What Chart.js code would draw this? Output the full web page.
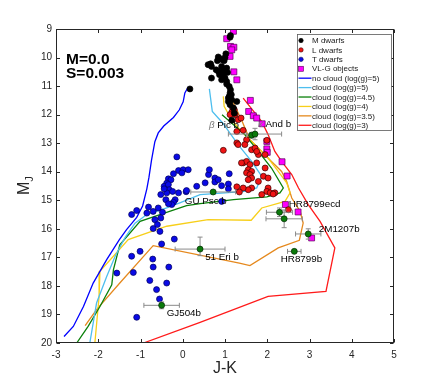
<!DOCTYPE html>
<html><head><meta charset="utf-8">
<script src="https://cdn.jsdelivr.net/npm/chart.js@4.4.0/dist/chart.umd.min.js"></script>
<style>html,body{margin:0;padding:0;background:#fff;}#wrap{width:436px;height:386px;}</style>
</head><body><div id="wrap"><canvas id="c" width="436" height="386"></canvas></div>
<script>
// ---------- data (x = J-K, y = M_J) ----------
const xTicks = [-3,-2,-1,0,1,2,3,4,5];
const yTicks = [9,10,11,12,13,14,15,16,17,18,19,20];

const mDwarfs = [[1.13,9.23],[1.12,9.29],[1.02,9.87],[0.84,9.98],[0.86,10.02],[0.98,10.11],[0.94,10.08],[0.82,10.11],[0.60,10.25],[0.66,10.22],[0.68,10.31],[0.92,10.31],[1.04,10.37],[0.79,10.43],[0.96,10.48],[0.84,10.48],[0.87,10.60],[0.96,10.60],[0.68,10.72],[1.00,10.72],[0.92,10.78],[1.04,10.84],[1.04,10.93],[1.10,11.01],[1.13,11.13],[1.12,11.24],[1.10,11.36],[1.16,11.48],[1.08,11.54],[1.12,11.65],[1.20,11.77],[0.17,11.10],[1.16,12.20],[1.08,11.42],[1.28,11.54],[1.00,10.00],[1.06,10.52],[1.15,11.30],[1.22,11.95]];

const lDwarfs = [[1.18,11.77],[1.16,11.92],[1.24,12.00],[1.12,12.00],[1.31,12.18],[1.38,12.12],[1.22,11.83],[1.28,12.59],[1.43,12.55],[1.28,12.99],[1.51,12.88],[0.96,13.25],[1.63,13.23],[1.79,13.40],[1.47,13.05],[1.71,13.17],[1.75,13.29],[1.31,13.05],[1.43,13.69],[1.51,13.64],[1.59,13.75],[1.39,13.69],[1.55,13.93],[1.63,13.99],[1.51,14.04],[1.59,14.10],[1.63,14.22],[1.55,14.28],[1.75,13.69],[1.95,13.87],[1.91,14.16],[1.79,14.34],[2.02,14.57],[1.99,14.69],[2.07,14.74],[1.87,14.80],[1.63,14.57],[1.55,14.63],[1.43,14.57],[1.28,14.53],[2.18,14.74],[2.50,15.33],[1.34,14.71],[1.99,12.90],[1.95,13.40],[2.02,14.22],[2.14,14.78]];

const tDwarfs = [[-0.14,13.48],[-0.10,13.96],[0.01,13.93],[0.13,13.93],[-0.22,14.07],[-0.34,14.25],[-0.28,14.28],[-0.38,14.40],[-0.44,14.51],[-0.34,14.45],[-0.32,14.63],[-0.38,14.74],[-0.44,14.60],[-0.52,14.80],[-0.24,14.69],[-0.10,14.74],[-0.18,14.98],[-0.22,15.07],[-0.26,15.15],[-0.40,14.98],[-0.34,15.12],[-0.58,15.27],[-0.70,15.39],[-0.81,15.24],[-0.85,15.45],[-0.48,15.42],[-0.52,15.62],[-0.66,15.68],[-0.60,15.85],[-0.70,15.99],[-0.54,16.09],[-1.01,16.79],[-1.21,16.96],[-0.20,16.36],[-0.50,16.53],[-0.71,17.06],[-0.70,17.34],[-0.33,17.34],[-0.78,17.81],[-1.17,17.53],[-1.56,17.55],[-0.62,18.13],[-0.38,17.90],[-0.55,18.46],[-1.09,19.10],[-1.21,15.50],[-1.09,15.36],[0.61,14.10],[0.33,14.51],[0.53,14.39],[0.76,14.22],[0.76,14.36],[0.92,14.49],[0.84,14.28],[1.10,14.07],[1.08,14.43],[1.08,14.60],[0.08,14.70],[0.92,15.04],[0.63,13.93],[0.09,14.66],[-0.02,14.04]];

const vlgObjects = [[1.20,9.08],[1.04,9.34],[1.13,9.61],[1.21,9.64],[1.16,9.73],[1.12,9.96],[1.21,10.50],[1.28,10.78],[1.60,11.50],[1.56,11.89],[1.67,12.04],[1.75,12.12],[1.88,12.32],[1.99,12.94],[1.99,13.20],[2.00,13.32],[2.35,13.65],[2.47,14.15],[2.43,15.15],[2.73,15.41],[3.05,16.32]];

const noCloudG5 = [[0.13,11.03],[0.05,11.24],[0.01,11.55],[-0.08,11.83],[-0.22,12.10],[-0.45,12.40],[-0.58,12.64],[-0.66,12.95],[-0.74,13.60],[-0.80,14.20],[-0.85,14.60],[-0.95,15.20],[-1.09,15.60],[-1.33,16.03],[-1.50,16.38],[-1.80,17.08],[-2.12,17.90],[-2.35,18.72],[-2.59,19.42],[-2.81,19.77]];
const cloudG5 = [[0.63,11.10],[0.70,11.89],[0.95,12.30],[1.31,13.05],[1.63,13.64],[1.87,14.16],[1.75,14.57],[1.47,14.69],[1.00,14.74],[0.41,14.80],[-0.07,15.09],[-0.38,15.27],[-0.85,15.50],[-1.13,15.80],[-1.37,16.32],[-1.60,16.96],[-1.80,17.67],[-2.04,18.60],[-2.20,20.00]];
const cloudG45 = [[0.93,12.00],[1.47,12.70],[1.79,13.29],[2.10,13.87],[2.38,14.57],[2.30,14.74],[1.99,14.88],[1.20,14.98],[0.41,15.12],[0.09,15.19],[-0.54,15.50],[-1.01,15.74],[-1.49,16.56],[-1.64,17.43],[-1.68,17.96],[-1.96,18.72],[-2.24,19.42],[-2.51,20.00]];
const cloudG4 = [[0.96,11.36],[0.98,11.71],[1.16,12.18],[1.39,12.59],[1.71,13.05],[2.02,13.52],[2.26,13.99],[2.46,14.39],[2.54,14.74],[2.42,15.04],[1.87,15.27],[1.62,15.70],[0.60,15.68],[-0.38,15.91],[-1.29,16.38],[-1.96,17.49],[-1.98,18.37],[-2.08,20.00]];
const cloudG35 = [[1.10,11.28],[1.20,11.59],[1.39,12.18],[1.59,12.88],[1.87,13.29],[2.10,13.64],[2.34,13.99],[2.46,14.34],[2.58,14.92],[2.78,15.39],[2.85,15.80],[2.76,16.40],[2.26,16.67],[1.59,17.29],[1.34,17.20],[-0.70,16.59],[-1.49,17.90],[-2.04,18.83],[-2.31,19.39]];
const cloudG3 = [[1.43,11.42],[1.87,12.24],[2.02,12.70],[2.18,13.29],[2.34,13.64],[2.58,14.10],[2.74,14.57],[2.97,15.15],[3.25,15.74],[3.60,16.67],[3.39,18.19],[2.02,18.37],[0.41,19.28],[-0.93,20.00]];

const planetNames = ['beta Pic b','kappa And b','GU Psc b','51 Eri b','GJ504b','HR8799e','HR8799d','HR8799b','2M1207b'];
const planetX     = [1.63, 1.71, 0.72, 0.41, -0.50, 2.29, 2.40, 2.64, 2.97];
const planetY     = [12.72,12.68,14.71,16.71,18.68,15.42,15.65,16.79,16.18];
const planetXErr  = [0.12, 0.63, 0.53, 0.59, 0.42, 0.31, 0.43, 0.16, 0.30];
const planetYErrUp= [0.10, 0.20, 0.05, 0.42, 0.12, 0.15, 0.31, 0.05, 0.18];
const planetYErrDn= [0.10, 0.20, 0.05, 0.23, 0.12, 0.15, 0.31, 0.05, 0.18];

const labelPrefix = ['β', 'κ', '', '', '', '', '', ''];
const labelTexts  = [' Pic b', ' And b', 'GU Psc b', '51 Eri b', 'GJ504b', 'HR8799ecd', 'HR8799b', '2M1207b'];
const labelX      = [0.62, 1.78, 0.05, 0.53, -0.38, 2.51, 2.32, 3.22];
const labelY      = [12.39, 12.33, 15.04, 17.00, 18.95, 15.15, 17.06, 16.00];

const modelText = ['M=0.0', 'S=0.003'];

// ---------- build ----------
const toPts = a => a.map(([x,y]) => ({x, y}));
const FONT = 'Liberation Sans, Arial, Helvetica, sans-serif';
const lineDs = (label, pts, color) => ({label, data: toPts(pts), showLine: true, borderColor: color, backgroundColor: color,
  borderWidth: 1.3, pointRadius: 0, pointHoverRadius: 0, fill: false, tension: 0, order: 10, kind: 'line'});
const ptDs = (label, pts, fill, edge, style, r) => ({label, data: toPts(pts), showLine: false, pointStyle: style,
  pointRadius: r, pointHoverRadius: r, pointBackgroundColor: fill, pointBorderColor: edge, pointBorderWidth: 0.7,
  backgroundColor: fill, borderColor: edge, order: 5, kind: 'point'});

const datasets = [
  ptDs('M dwarfs', mDwarfs, '#000000', '#000000', 'circle', 3),
  ptDs('L dwarfs', lDwarfs, '#f01414', '#3a0000', 'circle', 3),
  ptDs('T dwarfs', tDwarfs, '#0a0ae6', '#00005a', 'circle', 3),
  ptDs('VL-G objects', vlgObjects, '#ff00ff', '#550055', 'rect', 4.2),
  lineDs('no cloud (log(g)=5)', noCloudG5, '#0000ff'),
  lineDs('cloud (log(g)=5)', cloudG5, '#4dbeee'),
  lineDs('cloud (log(g)=4.5)', cloudG45, '#0a800a'),
  lineDs('cloud (log(g)=4)', cloudG4, '#f7cf1a'),
  lineDs('cloud (log(g)=3.5)', cloudG35, '#e5891e'),
  lineDs('cloud (log(g)=3)', cloudG3, '#ff1a1a'),
  {label: 'planets', data: planetX.map((x,i) => ({x, y: planetY[i]})), showLine: false, pointStyle: 'circle',
   pointRadius: 3, pointBackgroundColor: '#0b7a0b', pointBorderColor: '#002a00', pointBorderWidth: 0.7, order: 0, kind: 'planet'}
];

function drawErrorBars(chart) {
  const ctx = chart.ctx, xs = chart.scales.x, ys = chart.scales.y;
  ctx.save();
  ctx.strokeStyle = '#8a8a8a'; ctx.lineWidth = 1;
  const cap = 2.5;
  planetX.forEach((x, i) => {
    const px = xs.getPixelForValue(x), py = ys.getPixelForValue(planetY[i]);
    const x0 = xs.getPixelForValue(x - planetXErr[i]), x1 = xs.getPixelForValue(x + planetXErr[i]);
    const y0 = ys.getPixelForValue(planetY[i] - planetYErrUp[i]), y1 = ys.getPixelForValue(planetY[i] + planetYErrDn[i]);
    ctx.beginPath();
    ctx.moveTo(x0, py); ctx.lineTo(x1, py);
    ctx.moveTo(x0, py - cap); ctx.lineTo(x0, py + cap);
    ctx.moveTo(x1, py - cap); ctx.lineTo(x1, py + cap);
    ctx.moveTo(px, y0); ctx.lineTo(px, y1);
    ctx.moveTo(px - cap, y0); ctx.lineTo(px + cap, y0);
    ctx.moveTo(px - cap, y1); ctx.lineTo(px + cap, y1);
    ctx.stroke();
  });
  ctx.restore();
}

const decor = {
  id: 'decor',
  beforeDatasetDraw(chart, args) {
    if (chart.data.datasets[args.index].kind === 'planet') drawErrorBars(chart);
  },
  afterDraw(chart) {
    const ctx = chart.ctx, a = chart.chartArea, xs = chart.scales.x, ys = chart.scales.y;
    ctx.save();
    // box
    ctx.strokeStyle = '#262626'; ctx.lineWidth = 1;
    const L = Math.round(a.left) + 0.5, R = Math.round(a.right) - 0.5, T = Math.round(a.top) + 0.5, B = Math.round(a.bottom) - 0.5;
    ctx.strokeRect(L, T, R - L, B - T);
    ctx.beginPath();
    const tl = 3.5;
    xTicks.forEach(v => { const p = Math.round(xs.getPixelForValue(v)) + 0.5;
      ctx.moveTo(p, B); ctx.lineTo(p, B - tl); ctx.moveTo(p, T); ctx.lineTo(p, T + tl); });
    yTicks.forEach(v => { const p = Math.round(ys.getPixelForValue(v)) + 0.5;
      ctx.moveTo(L, p); ctx.lineTo(L + tl, p); ctx.moveTo(R, p); ctx.lineTo(R - tl, p); });
    ctx.stroke();

    // axis titles
    ctx.fillStyle = '#262626';
    ctx.font = '16px ' + FONT; ctx.textAlign = 'center'; ctx.textBaseline = 'middle';
    ctx.fillText('J-K', (a.left + a.right) / 2, 369);
    ctx.save();
    ctx.translate(23, 186); ctx.rotate(-Math.PI / 2);
    ctx.textAlign = 'left'; ctx.textBaseline = 'alphabetic';
    ctx.font = '16px ' + FONT; const wM = ctx.measureText('M').width;
    ctx.fillText('M', -9, 6);
    ctx.font = '11px ' + FONT; ctx.fillText('J', -9 + wM, 10);
    ctx.restore();

    // model parameters
    ctx.fillStyle = '#000'; ctx.textAlign = 'left'; ctx.textBaseline = 'alphabetic';
    ctx.font = 'bold 15.5px ' + FONT;
    ctx.fillText(modelText[0], 66, 63.5);
    ctx.fillText(modelText[1], 66, 77.5);

    // object labels
    ctx.font = '9.8px ' + FONT; ctx.textBaseline = 'middle';
    labelTexts.forEach((t, i) => {
      let px = xs.getPixelForValue(labelX[i]); const py = ys.getPixelForValue(labelY[i]);
      if (labelPrefix[i]) {
        ctx.fillStyle = '#808080'; ctx.font = 'italic 9.8px ' + FONT;
        ctx.fillText(labelPrefix[i], px, py); px += ctx.measureText(labelPrefix[i]).width;
        ctx.font = '9.8px ' + FONT;
      }
      ctx.fillStyle = '#000'; ctx.fillText(t, px, py);
    });

    // legend
    const bx = 297.5, by = 34.5, bw = 94, bh = 96;
    ctx.fillStyle = '#fff'; ctx.fillRect(bx, by, bw, bh);
    ctx.strokeStyle = '#5a5a5a'; ctx.lineWidth = 0.8; ctx.strokeRect(bx, by, bw, bh);
    ctx.font = '8px ' + FONT; ctx.textBaseline = 'middle'; ctx.textAlign = 'left';
    const legDs = chart.data.datasets.filter(d => d.kind !== 'planet');
    legDs.forEach((d, i) => {
      const yy = 40.5 + i * 9.42;
      if (d.kind === 'point') {
        ctx.fillStyle = d.pointBackgroundColor; ctx.strokeStyle = d.pointBorderColor; ctx.lineWidth = 0.6;
        if (d.pointStyle === 'rect') { ctx.fillRect(298.5, yy - 2.5, 5, 5); ctx.strokeRect(298.5, yy - 2.5, 5, 5); }
        else { ctx.beginPath(); ctx.arc(301, yy, 2.2, 0, Math.PI * 2); ctx.fill(); ctx.stroke(); }
      } else {
        ctx.strokeStyle = d.borderColor; ctx.lineWidth = 1.3;
        ctx.beginPath(); ctx.moveTo(298.5, yy); ctx.lineTo(311.5, yy); ctx.stroke();
      }
      ctx.fillStyle = '#1a1a1a'; ctx.fillText(d.label, 312, yy + 0.5);
    });
    ctx.restore();
  }
};

new Chart(document.getElementById('c'), {
  type: 'scatter',
  data: {datasets},
  options: {
    responsive: false, animation: false, devicePixelRatio: 1,
    layout: {padding: {top: 29, right: 42, left: 0, bottom: 0}},
    plugins: {legend: {display: false}, tooltip: {enabled: false}},
    scales: {
      x: {type: 'linear', min: -3, max: 5,
          afterBuildTicks: s => { s.ticks = xTicks.map(v => ({value: v})); },
          ticks: {color: '#262626', font: {family: FONT, size: 10}, padding: 6, maxRotation: 0, autoSkip: false},
          grid: {display: false, drawTicks: false}, border: {display: false},
          afterFit: s => { s.height = 43; }},
      y: {type: 'linear', min: 9, max: 20, reverse: true,
          afterBuildTicks: s => { s.ticks = yTicks.map(v => ({value: v})); },
          ticks: {color: '#262626', font: {family: FONT, size: 10}, padding: 4, autoSkip: false},
          grid: {display: false, drawTicks: false}, border: {display: false},
          afterFit: s => { s.width = 56; }}
    }
  },
  plugins: [decor]
});
</script></body></html>
